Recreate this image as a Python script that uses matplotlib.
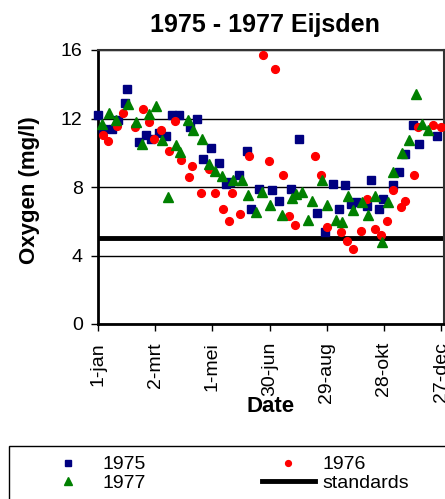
import matplotlib
matplotlib.use("Agg")
import matplotlib.pyplot as plt
from matplotlib.patches import Rectangle

plt.rcParams['font.family'] = ['Liberation Sans', 'DejaVu Sans']

# day of year (0 = 1 jan) and oxygen (mg/l)
days_1975 = [0, 5, 15, 21, 28, 30, 43, 50, 56, 64, 71, 78, 85, 97, 103.5, 110,
             118.6, 126.5, 134, 138, 147.5, 156, 160.5, 169, 183, 190, 202.5,
             210.5, 230, 238, 247, 252.5, 259.5, 265, 271, 282, 286.5, 294.5,
             298.6, 309, 316, 322, 330, 336.5, 355.7]
oxygen_1975 = [12.2, 11.4, 11.4, 11.9, 12.9, 13.7, 10.6, 11.05, 10.8, 11.15, 11.0,
               12.2, 12.2, 11.5, 12.0, 9.65, 10.3, 9.4, 8.2, 8.3, 8.7, 10.1, 6.7,
               7.9, 7.8, 7.2, 7.9, 10.8, 6.5, 5.35, 8.2, 6.7, 8.1, 7.0, 7.1, 6.9,
               8.4, 6.7, 7.3, 8.1, 8.85, 9.9, 11.6, 10.5, 10.95]

days_1976 = [5, 11, 20, 26, 39, 47, 53, 59, 66, 74, 81, 87, 95, 99, 108, 116, 123,
             131, 137, 141, 149, 158, 173, 179, 186, 194.5, 200, 207, 228, 234,
             240, 255, 261, 268, 276, 282, 291, 297.4, 303, 309, 318, 322, 332,
             336, 351, 360]
oxygen_1976 = [11.05, 10.7, 11.55, 12.3, 11.5, 12.55, 11.8, 10.8, 11.3, 10.1, 11.87,
               9.6, 8.6, 9.2, 7.65, 9.05, 7.65, 6.7, 6.03, 7.65, 6.4, 9.8, 15.7,
               9.5, 14.9, 8.7, 6.3, 5.8, 9.8, 8.7, 5.65, 5.35, 4.86, 4.4, 5.45,
               7.3, 5.56, 5.2, 6.03, 7.8, 6.83, 7.2, 8.7, 11.5, 11.6, 11.5]

days_1977 = [4, 12, 19, 31, 40, 46, 54, 61, 67, 73, 82, 86, 94, 100, 109, 116, 123,
             130, 142, 151, 157, 166, 172, 180, 193, 204, 208, 214, 220, 225, 235,
             240, 250, 256, 262, 268, 277, 283, 291, 298, 304, 310, 319, 326, 334,
             340, 346]
oxygen_1977 = [11.67, 12.35, 11.9, 12.85, 11.77, 10.5, 12.26, 12.75, 10.72, 7.4,
               10.43, 10.04, 11.93, 11.3, 10.82, 9.36, 8.95, 8.66, 8.38, 8.38, 7.55,
               6.54, 7.68, 6.97, 6.38, 7.36, 7.59, 7.7, 6.05, 7.2, 8.42, 6.96, 6.05,
               5.93, 7.45, 6.63, 7.1, 6.38, 7.45, 4.76, 7.1, 8.85, 9.98, 10.76,
               13.43, 11.68, 11.34]

standard_days = [0, 366]
standard_value = [5, 5]

tick_days = [0, 60, 120, 180, 240, 300, 360]
tick_labels = ['1-jan', '2-mrt', '1-mei', '30-jun', '29-aug', '28-okt', '27-dec']

W, H = 445, 499
fig = plt.figure(figsize=(W / 100, H / 100), dpi=100)
ax = fig.add_axes([98 / W, 1 - 324 / H, (444 - 98) / W, (324 - 50) / H])

ax.plot(days_1975, oxygen_1975, 's', color='#000080', ms=5.3, mec='#000080',
        label='1975', clip_on=False, zorder=3)
ax.plot(days_1976, oxygen_1976, 'o', color='#ff0000', ms=5.6, mec='#ff0000',
        label='1976', clip_on=False, zorder=3)
ax.plot(days_1977, oxygen_1977, '^', color='#008000', ms=7, mec='#008000',
        label='1977', clip_on=False, zorder=3)
ax.plot(standard_days, standard_value, '-', color='black', lw=3.5,
        label='standards', zorder=2)

ax.set_xlim(0, 363)
ax.set_ylim(0, 16)
ax.set_yticks([0, 4, 8, 12, 16])
ax.set_xticks(tick_days)
ax.set_xticklabels(tick_labels, rotation=90, fontsize=14)
ax.tick_params(axis='y', labelsize=14, direction='out', length=5, width=1, pad=6)
ax.tick_params(axis='x', direction='out', length=5, width=1, pad=8)
ax.yaxis.grid(True, color='black', lw=1)
ax.set_axisbelow(True)
for side in ['left', 'bottom']:
    ax.spines[side].set_linewidth(2)
for side in ['top', 'right']:
    ax.spines[side].set_linewidth(1.5)
    ax.spines[side].set_color('#333333')

fig.text(265 / W, 1 - 25 / H, '1975 - 1977 Eijsden', ha='center', va='center',
         fontsize=18, fontweight='bold')
fig.text(30 / W, 1 - 190 / H, 'Oxygen (mg/l)', ha='center', va='center',
         rotation=90, fontsize=16, fontweight='bold')
fig.text(271 / W, 1 - 406 / H, 'Date', ha='center', va='center',
         fontsize=16, fontweight='bold')

# legend box runs off the bottom/right of the picture
fig.patches.append(Rectangle((8.7 / W, -0.1), 1.0, (H - 446) / H + 0.1,
                             transform=fig.transFigure, fill=False,
                             ec='black', lw=1))
handles, labels = ax.get_legend_handles_labels()
order = [0, 2, 1, 3]
fig.legend([handles[i] for i in order], [labels[i] for i in order],
           loc='upper left', bbox_to_anchor=(32 / W, 1 - 446 / H), ncol=2,
           frameon=False, fontsize=14, markerscale=0.75, handlelength=2.7,
           handletextpad=0.4, columnspacing=6.0, borderpad=0, labelspacing=0.05)

fig.savefig('out.png', dpi=100)
